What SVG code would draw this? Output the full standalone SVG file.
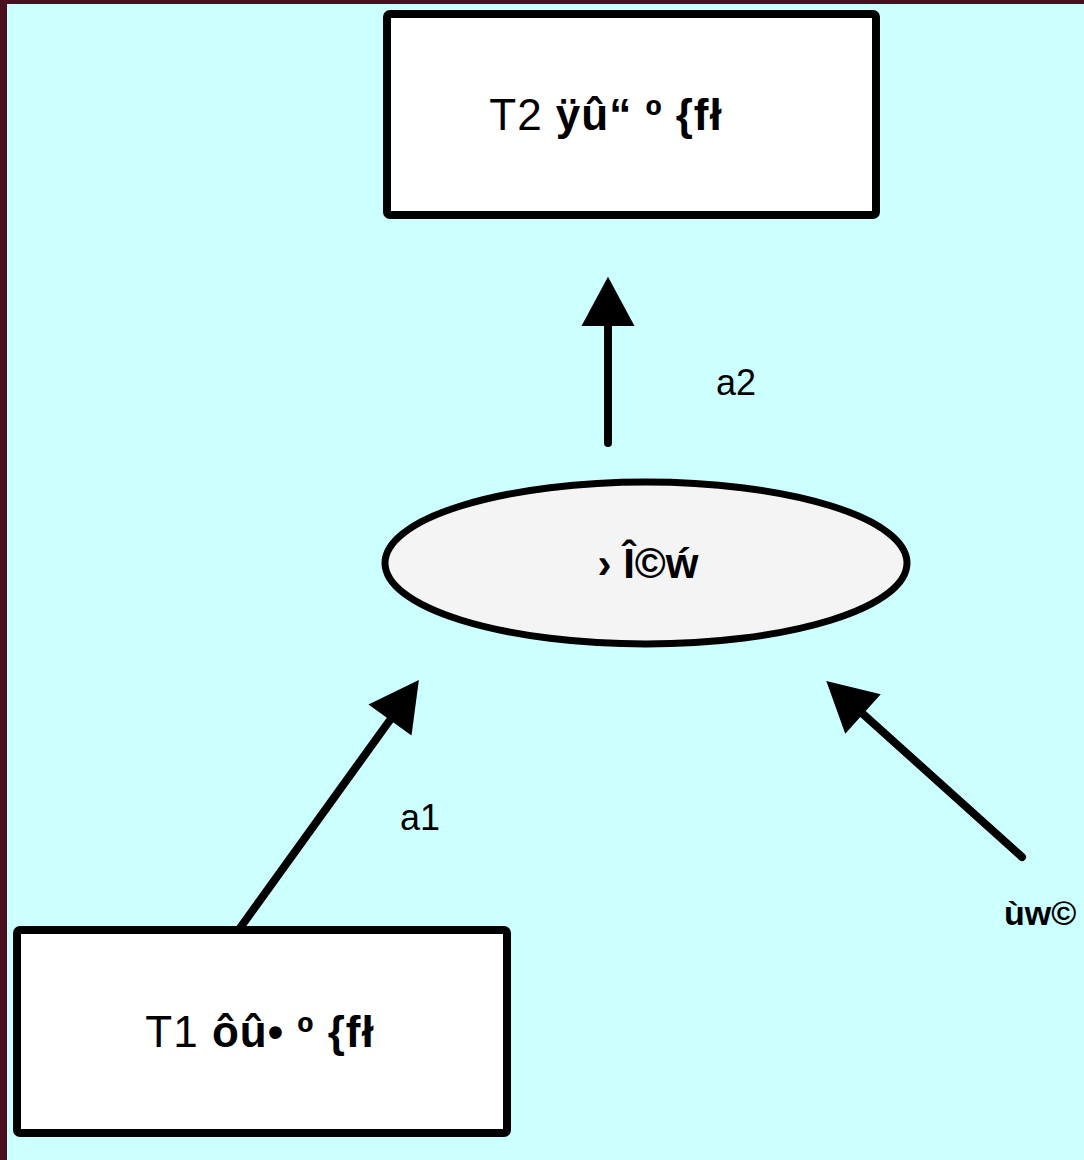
<svg xmlns="http://www.w3.org/2000/svg" width="1084" height="1160" viewBox="0 0 1084 1160">
<style>
.box{fill:#ffffff;stroke:#000;stroke-width:8;stroke-linejoin:round}
.t{font-family:"Liberation Sans",Arial,sans-serif;fill:#000}
.b{font-weight:bold}
.lbl{font-family:"Liberation Sans",Arial,sans-serif;fill:#000;font-size:36px}
.edge{stroke:#000;stroke-width:8;stroke-linecap:round;fill:none}
</style>
<defs>
<marker id="ah" markerWidth="8" markerHeight="8" refX="0" refY="0" viewBox="-1 -3.2 7 6.4" orient="auto" markerUnits="strokeWidth">
<path d="M5.4,0 L0,-2.9 L0,2.9 Z" fill="#000"/>
</marker>
</defs>
<rect x="0" y="0" width="1084" height="1160" fill="#4a1020"/>
<rect x="7" y="4" width="1077" height="1156" fill="#ccffff"/>
<g id="T2">
<rect class="box" x="387" y="14" width="489" height="201" rx="3"/>
<text class="t" x="606" y="130" font-size="44" text-anchor="middle" letter-spacing="1">T2 <tspan class="b">ÿû“</tspan> <tspan class="b">º</tspan> <tspan class="b">{fł</tspan></text>
</g>
<g id="center">
<ellipse cx="646" cy="563" rx="261" ry="81" fill="#f4f4f4" stroke="#000" stroke-width="7"/>
<text class="t b" x="648" y="578" font-size="42" text-anchor="middle">›  Î©ẃ</text>
</g>
<g id="T1">
<rect class="box" x="17" y="930" width="490" height="203" rx="3"/>
<text class="t" x="260" y="1047" font-size="44" text-anchor="middle" letter-spacing="1">T1 <tspan class="b">ôû•</tspan> <tspan class="b">º</tspan> <tspan class="b">{fł</tspan></text>
</g>
<g id="ext">
<text class="t b" x="1004" y="925" font-size="34">ùw©</text>
</g>
<g id="connectors">
<line class="edge" x1="608" y1="443" x2="608" y2="326" marker-end="url(#ah)"/>
<line class="edge" x1="240" y1="928" x2="390" y2="720" marker-end="url(#ah)"/>
<line class="edge" x1="1022" y1="857" x2="863" y2="714" marker-end="url(#ah)"/>
<text class="lbl" x="716" y="395">a2</text>
<text class="lbl" x="400" y="830">a1</text>
</g>
</svg>
